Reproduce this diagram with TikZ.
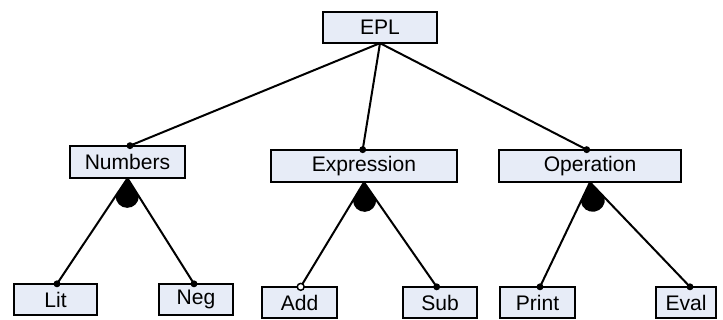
\documentclass[tikz,border=0pt]{standalone}
\usepackage{fontspec}
\setmainfont{Liberation Sans}
\usetikzlibrary{calc}
\definecolor{boxfill}{RGB}{231,236,247}

% filled "or" fan under a parent: apex #1, towards child ends #2 and #3
\newcommand\orfan[3]{%
  \fill let \p1 = ($(#1)!16pt!(#2)$), \p2 = ($(#1)!16pt!(#3)$),
            \n1 = {atan2(\y2-\y1,\x2-\x1)},
            \n2 = {veclen(\x2-\x1,\y2-\y1)/2} in
    (#1) -- (\p1) arc[start angle=\n1+180, delta angle=180, radius=\n2] -- cycle;
}

\begin{document}
\begin{tikzpicture}[x=0.75pt,y=0.75pt,
  feature/.style={draw=black, line width=1.7pt, fill=boxfill, inner sep=0pt,
    outer sep=0pt, minimum height=23.5pt,
    font=\fontsize{15.8pt}{18pt}\selectfont},
  link/.style={line width=1.5pt},
  mandatory/.style={fill=black},
  optional/.style={draw=black, line width=1.1pt, fill=white}]
\useasboundingbox (0,0) rectangle (723,320);

% features
\node[feature, minimum width=85.5pt]  (epl)  at (380,292.5) {EPL};
\node[feature, minimum width=86pt, minimum height=24.5pt] (num)  at (127.5,158) {Numbers};
\node[feature, minimum width=139pt, minimum height=24.5pt] (expr) at (364,154) {Expression};
\node[feature, minimum width=136.5pt, minimum height=24.5pt] (oper) at (590,154) {Operation};
\node[feature, minimum width=62.5pt] (lit)   at (55.5,20.5) {Lit};
\node[feature, minimum width=56pt]   (neg)   at (196,20.5)  {Neg};
\node[feature, minimum width=56.5pt] (add)   at (299.5,17.5) {Add};
\node[feature, minimum width=56pt]   (sub)   at (440,17.5)  {Sub};
\node[feature, minimum width=56.5pt] (print) at (537.5,17.5) {Print};
\node[feature, minimum width=45pt]   (eval)  at (686,17.5)  {Eval};

% attachment points on the child boxes
\coordinate (num-in)   at ($(num.north)+(2.5,0)$);
\coordinate (expr-in)  at ($(expr.north)+(-1.3,0)$);
\coordinate (oper-in)  at ($(oper.north)+(-3.3,0)$);
\coordinate (lit-in)   at ($(lit.north)+(1.5,0)$);
\coordinate (neg-in)   at ($(neg.north)+(-2,0)$);
\coordinate (add-in)   at ($(add.north)+(1.2,0)$);
\coordinate (sub-in)   at ($(sub.north)+(-3.3,0)$);
\coordinate (print-in) at ($(print.north)+(2.5,0)$);
\coordinate (eval-in)  at ($(eval.north)+(4,0)$);

% connectors
\draw[link] (epl.south) -- (num-in);
\draw[link] (epl.south) -- (expr-in);
\draw[link] (epl.south) -- (oper-in);
\draw[link] (num.south) -- (lit-in);
\draw[link] (num.south) -- (neg-in);
\draw[link] (expr.south) -- (add-in);
\draw[link] (expr.south) -- (sub-in);
\draw[link] (oper.south) -- (print-in);
\draw[link] (oper.south) -- (eval-in);

% group fans
\orfan{num.south}{lit-in}{neg-in}
\orfan{expr.south}{add-in}{sub-in}
\orfan{oper.south}{print-in}{eval-in}

% end markers
\foreach \p in {num-in,expr-in,oper-in,lit-in,neg-in,sub-in,print-in,eval-in}
  \fill[mandatory] (\p) circle[radius=2.6pt];
\draw[optional] (add-in) circle[radius=2.6pt];
\end{tikzpicture}
\end{document}
